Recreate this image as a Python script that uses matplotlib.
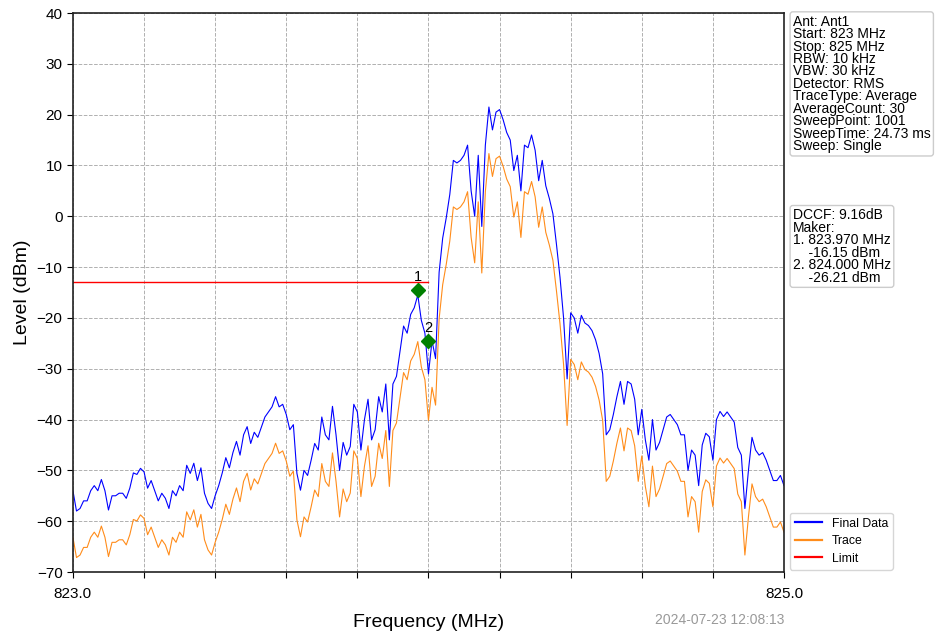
import numpy as np
import matplotlib
matplotlib.use('Agg')
from matplotlib import pyplot as plt

plt.rcParams['font.family'] = ['Liberation Sans', 'DejaVu Sans']

## Donnees (pas de 0.01 MHz)
f_start, f_stop = 823.0, 825.0
dccf = 9.16
final_data = [
    -54, -58, -57.5, -56, -56, -54, -53, -54, -51.8, -54,
    -57.8, -55, -55, -54.5, -54.5, -55.5, -53.5, -50.5, -50.8, -49.6,
    -50.3, -53.5, -52, -54, -56, -54.5, -55.5, -57.5, -54, -55,
    -53, -54, -49, -50.6, -48.6, -52, -49.5, -54.5, -56.5, -57.5,
    -55, -53, -50.5, -47.5, -49.5, -46.5, -44.3, -47, -43, -41.4,
    -44.7, -42.5, -43.5, -41.5, -39.5, -38.5, -37.5, -35.5, -37.5, -37,
    -39, -42, -41, -50.6, -53.9, -50, -51, -48, -44.7, -46,
    -39.5, -43, -44, -37.4, -43, -50, -44.5, -47, -45.3, -37,
    -38.5, -46, -40, -36, -44, -42, -35.5, -38.5, -33, -44,
    -33, -31.5, -26.6, -21.6, -23, -19.3, -18, -15.5, -20.5, -23,
    -31, -24.5, -28, -11, -4.3, -0.3, 4.3, 11, 10.5, 11,
    12, 14, 5, 0, 12, -2, 14, 21.5, 17, 20.5,
    21, 19, 16.5, 15, 9, 12, 5, 14, 13.5, 16,
    13, 7, 11, 6, 3.5, 0.5, -5.5, -12, -20, -32,
    -19, -20, -23, -19.5, -21, -21.5, -22.5, -24.3, -27, -31,
    -43, -42, -39, -35.5, -32.5, -37, -32.5, -33, -36, -43,
    -38, -44, -48, -40, -46, -44.5, -42, -39.5, -39, -40,
    -41, -43, -43, -50, -46, -47, -53, -45, -42.7, -43.4,
    -48, -40, -38.4, -39.4, -38.5, -39.5, -40.5, -45.5, -47, -57.5,
    -50, -43.5, -46, -47, -46.5, -48, -50, -52, -52, -51,
    -53,
]
limit_level = -13
limit_stop = 824.0
marker_freq = [823.970, 824.000]
marker_level = [-14.5, -24.5]
marker_text = ['-16.15', '-26.21']

freq = np.linspace(f_start, f_stop, len(final_data))
final_data = np.array(final_data)
trace = final_data - dccf

fig = plt.figure(figsize=(9.35, 6.35), dpi=100)
ax = fig.add_axes([0.078, 0.0992, 0.7605, 0.8803])

ax.plot(freq, final_data, color='blue', lw=0.8, label='Final Data')
ax.plot(freq, trace, color='#ff8c1a', lw=0.8, label='Trace')
ax.plot([f_start, limit_stop], [limit_level, limit_level], color='red', lw=1.0, label='Limit')

ax.plot(marker_freq, marker_level, 'D', color='green', ms=7, zorder=5)
for i, (f, l) in enumerate(zip(marker_freq, marker_level)):
    ax.text(f, l + 1.2, str(i + 1), ha='center', va='bottom', fontsize=10.5)

ax.set_xlim(f_start, f_stop)
ax.set_ylim(-70, 40)
ax.set_yticks(np.arange(-70, 41, 10))
xt = np.linspace(f_start, f_stop, 11)
ax.set_xticks(xt)
ax.set_xticklabels(['823.0'] + [''] * 9 + ['825.0'])
ax.tick_params(labelsize=11, direction='out', length=4)
ax.tick_params(axis='x', pad=7)
ax.grid(True, ls='--', color='#b0b0b0', lw=0.7)
for s in ax.spines.values():
    s.set_color('#222222')
    s.set_linewidth(1.2)

ax.set_xlabel('Frequency (MHz)', fontsize=14, labelpad=9)
ax.set_ylabel('Level (dBm)', fontsize=14)

info = ('Ant: Ant1\nStart: 823 MHz\nStop: 825 MHz\nRBW: 10 kHz\nVBW: 30 kHz\n'
        'Detector: RMS\nTraceType: Average\nAverageCount: 30\nSweepPoint: 1001\n'
        'SweepTime: 24.73 ms\nSweep: Single')
fig.text(0.848, 0.977, info, fontsize=10, va='top', ha='left', linespacing=0.86,
         bbox=dict(boxstyle='round,pad=0.2', fc='white', ec='#cccccc'))

maker = ('DCCF: %.2fdB\nMaker:\n1. %.3f MHz\n    %s dBm\n2. %.3f MHz\n    %s dBm'
         % (dccf, marker_freq[0], marker_text[0], marker_freq[1], marker_text[1]))
fig.text(0.848, 0.672, maker, fontsize=10, va='top', ha='left', linespacing=0.86,
         bbox=dict(boxstyle='round,pad=0.2', fc='white', ec='#cccccc'))

leg = ax.legend(loc='lower left', bbox_to_anchor=(1.005, 0.0), fontsize=8.8, frameon=True,
                edgecolor='#cccccc', handlelength=2.2, borderaxespad=0.2, labelspacing=0.45)
for h in leg.get_lines():
    h.set_linewidth(1.6)

fig.text(0.839, 0.012, '2024-07-23 12:08:13', fontsize=10, color='#999999', ha='right', va='bottom')

plt.savefig('out.png', dpi=100)
